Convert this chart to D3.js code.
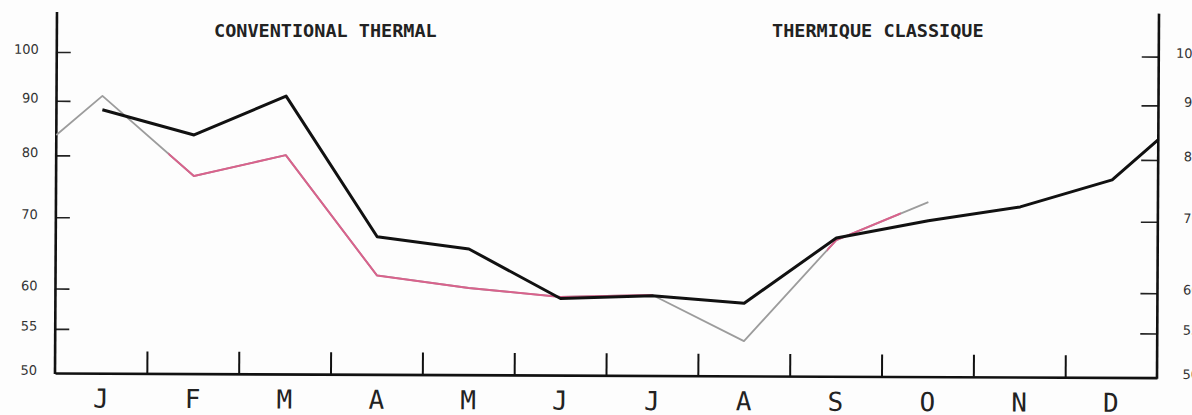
<!DOCTYPE html>
<html><head><meta charset="utf-8">
<script src="https://cdn.jsdelivr.net/npm/d3@7"></script>
<style>body{margin:0;background:#fff}svg{display:block}</style></head>
<body><svg id="c" width="1192" height="415"></svg>
<script>
// ---- data ----
const months = ["J","F","M","A","M","J","J","A","S","O","N","D"];
const yTicks = [50,55,60,70,80,90,100];
// positions in month index (-0.5 / 11.5 = year edges)
const blackPos  = [0,1,2,3,4,5,6,7,8,9,10,11,11.5];
const blackVals = [88.3,83.7,91.1,67.3,65.6,59.0,59.4,58.5,67.4,70.0,72.2,76.6,83.6];
const greyPos   = [-0.5,0,1,2,3,4,5,6,7,8,9];
const greyVals  = [83.6,91.0,76.6,80.2,61.9,60.3,59.2,59.5,53.9,67.1,72.9];
const pinkSpans = [[0.72,6.0],[7.9,8.7]];
const titleLeft = "CONVENTIONAL THERMAL";
const titleRight = "THERMIQUE CLASSIQUE";

// ---- layout ----
const L = 55, R = 1157, B = 373, T100 = 52;
const svg = d3.select("#c");
svg.append("rect").attr("width",1192).attr("height",415).attr("fill","#fdfdfd");

const x = d3.scaleLinear().domain([-0.5, 11.5]).range([L, R]);
const xb = d3.scaleBand().domain(d3.range(12)).range([L, R]);
const y = d3.scaleLog().domain([50, 100]).range([B, T100]);

// slight scan skew
const g = svg.append("g").attr("transform","matrix(1,0.0042,-0.0055,1,2.05,-0.23)");

// clip for pink portions
const defs = svg.append("defs");
const cp = defs.append("clipPath").attr("id","pinkclip");
cp.selectAll("rect").data(pinkSpans).join("rect")
  .attr("x", d => x(d[0])).attr("width", d => x(d[1]) - x(d[0]))
  .attr("y", 0).attr("height", 415);

// left axis
const la = g.append("g").attr("transform",`translate(${L},0)`)
  .call(d3.axisLeft(y).tickValues(yTicks).tickFormat(d3.format("d")).tickSize(-14).tickPadding(18));
la.select(".domain").remove();
la.selectAll(".tick line").attr("stroke","#222").attr("stroke-width",1.6)
  .filter(d => d === 50).remove();
la.selectAll(".tick text").attr("font-family","DejaVu Sans").attr("font-size",13).attr("fill","#333").attr("dy","0.1em");

// right axis
const ra = g.append("g").attr("transform",`translate(${R},0)`)
  .call(d3.axisRight(y).tickValues(yTicks).tickFormat(d3.format("d")).tickSize(-17).tickPadding(16));
ra.select(".domain").remove();
ra.selectAll(".tick line").attr("stroke","#222").attr("stroke-width",1.6)
  .filter(d => d === 50).remove();
ra.selectAll(".tick text").attr("font-family","DejaVu Sans").attr("font-size",13).attr("fill","#333")
  .attr("text-anchor","end").attr("x",42).attr("dy","0.05em");

// vertical axis lines
g.append("line").attr("x1",L).attr("x2",L).attr("y1",12).attr("y2",B+1)
  .attr("stroke","#111").attr("stroke-width",2.6);
g.append("line").attr("x1",R).attr("x2",R).attr("y1",9).attr("y2",B+1)
  .attr("stroke","#111").attr("stroke-width",2.6);

// bottom axis with month boundary ticks
const ba = g.append("g").attr("transform",`translate(0,${B})`)
  .call(d3.axisBottom(x).tickValues(d3.range(0.5, 11, 1)).tickSize(-22).tickSizeOuter(0).tickFormat(""));
ba.select(".domain").attr("stroke","#111").attr("stroke-width",2.6);
ba.selectAll(".tick line").attr("stroke","#111").attr("stroke-width",2);

// month labels
const ma = g.append("g").attr("transform",`translate(0,${B})`)
  .call(d3.axisBottom(xb).tickFormat(i => months[i]).tickSize(0).tickPadding(16));
ma.select(".domain").remove();
ma.selectAll(".tick text").attr("font-family","DejaVu Sans Mono").attr("font-size",26).attr("fill","#222");

// lines
const line = d3.line().x(d => x(d[0])).y(d => y(d[1]));
const greyData = greyPos.map((p,i) => [p, greyVals[i]]);
const blackData = blackPos.map((p,i) => [p, blackVals[i]]);

g.append("path").datum(greyData).attr("d", line)
  .attr("fill","none").attr("stroke","#9c9c9c").attr("stroke-width",1.8).attr("stroke-linejoin","round");
g.append("path").datum(greyData).attr("d", line).attr("clip-path","url(#pinkclip)")
  .attr("fill","none").attr("stroke","#d9628c").attr("stroke-width",2).attr("stroke-linejoin","round");
g.append("path").datum(blackData).attr("d", line)
  .attr("fill","none").attr("stroke","#111").attr("stroke-width",3).attr("stroke-linejoin","round");

// titles
svg.append("text").attr("x",214).attr("y",37).text(titleLeft)
  .attr("font-family","DejaVu Sans Mono").attr("font-weight","bold").attr("font-size",18.5).attr("fill","#222");
svg.append("text").attr("x",772).attr("y",37).text(titleRight)
  .attr("font-family","DejaVu Sans Mono").attr("font-weight","bold").attr("font-size",18.5).attr("fill","#222");
</script>
</body></html>
